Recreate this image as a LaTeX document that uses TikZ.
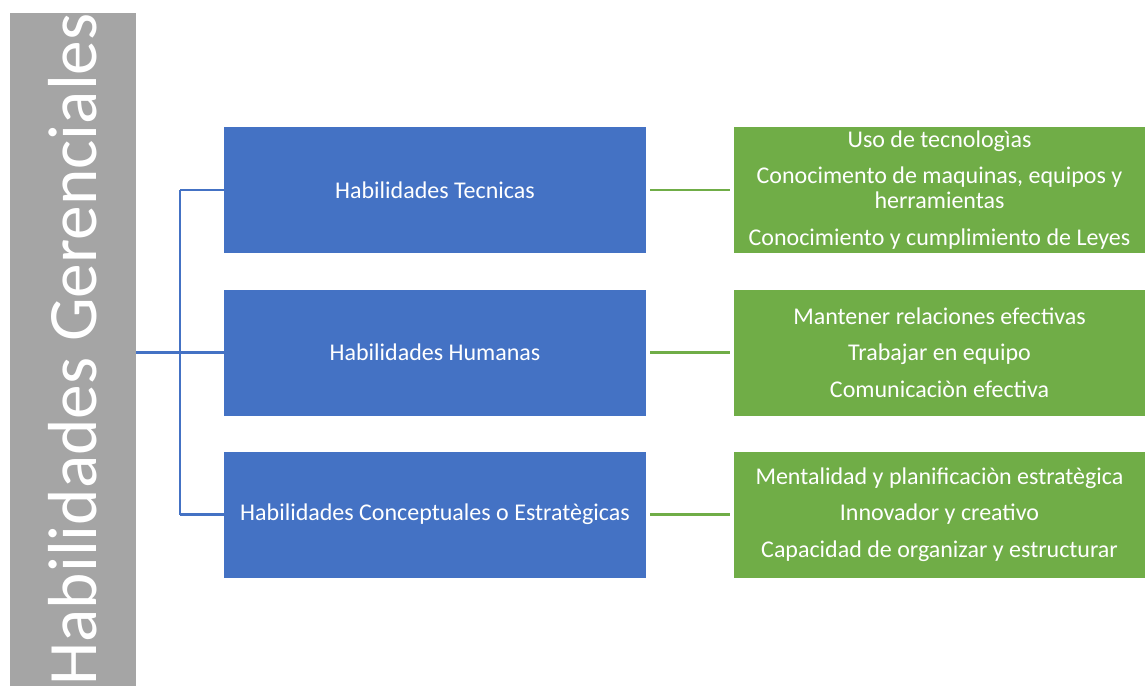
\documentclass[tikz,border=0pt]{standalone}
\usepackage{fontspec}
\setmainfont{Carlito}
\definecolor{barGray}{HTML}{A5A5A5}
\definecolor{skillBlue}{HTML}{4472C4}
\definecolor{itemGreen}{HTML}{70AD47}
\tikzset{
  skill/.style={fill=skillBlue, text=white, inner sep=0pt,
    minimum width=316.5pt, minimum height=94.5pt,
    font=\fontsize{18}{21}\selectfont},
  items/.style={fill=itemGreen, text=white, inner sep=0pt, align=center,
    minimum width=308.25pt, minimum height=94.5pt,
    font=\fontsize{18}{18.75}\selectfont},
  link/.style={line width=1.6pt, skillBlue},
  leaf/.style={line width=1.6pt, itemGreen, shorten <=3pt, shorten >=3pt}
}

\begin{document}
\begin{tikzpicture}[x=0.75pt, y=-0.75pt]
        \useasboundingbox (0, 0) rectangle (1145, 686);
        % Nodes
        \node[fill=barGray, text=white, rotate=90, inner sep=0pt,
              minimum width=504.75pt, minimum height=94.5pt,
              font=\fontsize{52}{60}\selectfont] (title) at (73, 349.5) {Habilidades Gerenciales};
        \node[skill] (tec) at (435, 190) {Habilidades Tecnicas};
        \node[skill] (hum) at (435, 352.5) {Habilidades Humanas};
        \node[skill] (con) at (435, 514.5) {Habilidades Conceptuales o Estratègicas};
        \node[items] (tecL) at (939.5, 190) {Uso de tecnologìas\\[8.5pt]
            Conocimento de maquinas, equipos y\\herramientas\\[8.5pt]
            Conocimiento y cumplimiento de Leyes};
        \node[items] (humL) at (939.5, 352.5) {Mantener relaciones efectivas\\[8.5pt]
            Trabajar en equipo\\[8.5pt]
            Comunicaciòn efectiva};
        \node[items] (conL) at (939.5, 514.5) {Mentalidad y planificaciòn estratègica\\[8.5pt]
            Innovador y creativo\\[8.5pt]
            Capacidad de organizar y estructurar};
        \coordinate (split) at (180, 352.5);
        % Edges
        \draw[link] (title.south |- split) -- (split);
        \draw[link] (split |- tec.west) -- (split |- con.west);
        \draw[link] (split |- tec.west) -- (tec.west);
        \draw[link] (split) -- (hum.west);
        \draw[link] (split |- con.west) -- (con.west);
        \draw[leaf] (tec) -- (tecL);
        \draw[leaf] (hum) -- (humL);
        \draw[leaf] (con) -- (conL);
    \end{tikzpicture}
\end{document}
